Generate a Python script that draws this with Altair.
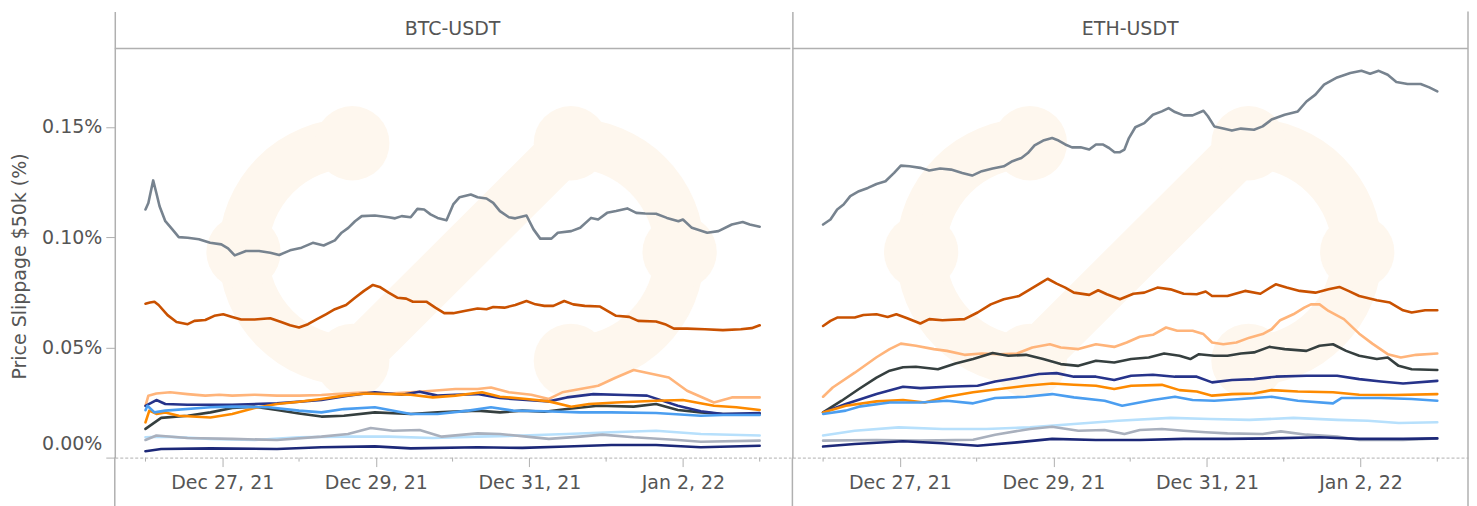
import altair as alt
import pandas as pd
import math

FONT = "DejaVu Sans"
TEXT_COLOR = "#555555"
FRAME = "#b0b0b0"
WATERMARK = "#fef7ee"
FS = 19

PAIRS = ["BTC-USDT", "ETH-USDT"]
SERIES = ["Exchange A", "Exchange B", "Exchange C", "Exchange D", "Exchange E",
          "Exchange F", "Exchange G", "Exchange H", "Exchange I", "Exchange J"]
COLORS = ["#77838f", "#c95100", "#ffb47a", "#353f3f", "#26338a",
          "#fd8a00", "#4b9ef0", "#b7e0fc", "#a9b0bd", "#1c2878"]

START = "2021-12-26T00:00:00Z"
LABEL_DAYS = [(2021, 12, 27), (2021, 12, 29), (2021, 12, 31), (2022, 1, 2)]
MINOR_DAYS = ["2021-12-26T00:00:00Z", "2021-12-28T00:00:00Z", "2021-12-30T00:00:00Z",
              "2022-01-01T00:00:00Z", "2022-01-03T00:00:00Z"]
Y_TICKS = [0.0, 0.05, 0.10, 0.15]
Y_TOP = 0.2023

# (hours since Dec 26 00:00 UTC, slippage %)
BTC_A = [(0, 0.1125), (0.9, 0.1155), (2.4, 0.1257), (3.4, 0.120), (4.4, 0.114), (6.2, 0.1072),
         (8.4, 0.1035), (10.4, 0.100), (13.2, 0.0997), (16.7, 0.099), (20.2, 0.0974), (23.7, 0.0967),
         (25.8, 0.0949), (27.9, 0.0917), (31.4, 0.0937), (35.5, 0.0937), (39, 0.0929), (41.8, 0.0919),
         (45.2, 0.094), (48.8, 0.0952), (52.3, 0.0974), (55.7, 0.0962), (59.2, 0.0985), (61.3, 0.102),
         (63.4, 0.1042), (65.5, 0.1072), (67.6, 0.1095), (71.7, 0.1098), (76, 0.109), (78, 0.1085),
         (80.1, 0.1095), (82.9, 0.109), (85, 0.1128), (87.1, 0.1125), (89.1, 0.1103), (91.3, 0.1087),
         (94.1, 0.1076), (96.2, 0.1148), (98.2, 0.1181), (101.7, 0.1193), (103.8, 0.1181),
         (106.6, 0.1175), (108.7, 0.1155), (110.8, 0.1118), (113.6, 0.109), (115.6, 0.1085),
         (119.1, 0.1098), (121.3, 0.1035), (123.4, 0.0993), (126.9, 0.0993), (128.9, 0.102),
         (133.1, 0.1027), (135.9, 0.1042), (139.3, 0.1087), (141.5, 0.108), (144.3, 0.111),
         (147.1, 0.1118), (150.6, 0.113), (153.4, 0.111), (156.2, 0.1107), (159.6, 0.1106),
         (163, 0.1087), (166.6, 0.1072), (168, 0.108), (170.8, 0.1042), (175.6, 0.102),
         (179.1, 0.1027), (183.3, 0.1057), (186.7, 0.1068), (188.9, 0.1057), (192, 0.1047)]
BTC_B = [(0, 0.0698), (1.4, 0.0703), (2.8, 0.0707), (4.1, 0.0692), (6.9, 0.0646), (9.7, 0.0615),
         (13.2, 0.0605), (15.3, 0.062), (18.7, 0.0624), (21.5, 0.0643), (24.3, 0.065), (27.1, 0.0638),
         (29.9, 0.0626), (34.1, 0.0626), (39, 0.0632), (42.4, 0.0615), (45.2, 0.06), (48, 0.059),
         (50.8, 0.0605), (53.6, 0.0628), (56.4, 0.065), (59.2, 0.0673), (62.7, 0.0692), (65.5, 0.0725),
         (68.3, 0.0756), (71.1, 0.0783), (73.2, 0.0774), (76, 0.0748), (78.7, 0.0725), (81.5, 0.0721),
         (83.6, 0.0707), (87.8, 0.0707), (90.6, 0.068), (93.4, 0.0655), (96.2, 0.0655), (99.7, 0.0665),
         (103.8, 0.0676), (106.6, 0.0673), (108.7, 0.0683), (112.2, 0.068), (115.6, 0.0692),
         (119.1, 0.071), (121.9, 0.0695), (124.7, 0.0688), (127.5, 0.0688), (130.9, 0.071),
         (133.7, 0.0695), (137.3, 0.0688), (142.1, 0.0685), (147.1, 0.0643), (151.2, 0.0638),
         (154, 0.062), (159.6, 0.0617), (162.4, 0.0605), (165.2, 0.0585), (169.3, 0.0585),
         (174.9, 0.0582), (180.5, 0.0578), (186.1, 0.0582), (189.5, 0.0587), (192, 0.060)]
BTC_C = [(0, 0.0235), (0.9, 0.0281), (3.4, 0.0291), (7.7, 0.0296), (13.1, 0.0288), (18.7, 0.0281),
         (23.1, 0.0285), (27.1, 0.0281), (34.1, 0.0285), (41.1, 0.0281), (48, 0.0281), (55, 0.0284),
         (62, 0.0291), (68.9, 0.0296), (76, 0.0291), (82.9, 0.0296), (89.8, 0.0303), (96.9, 0.0311),
         (103.8, 0.0311), (108, 0.0318), (113.6, 0.0296), (120.6, 0.0285), (126.1, 0.0266),
         (130.3, 0.0296), (135.9, 0.0311), (141.5, 0.0326), (147.1, 0.0363), (152.6, 0.0397),
         (163.6, 0.0363), (169.3, 0.0303), (177.7, 0.025), (183.3, 0.0273), (192, 0.0273)]
BTC_D = [(0, 0.013), (4.9, 0.018), (13.2, 0.019), (20.3, 0.0205), (27.1, 0.0225), (34.1, 0.0231),
         (41.1, 0.0216), (48, 0.020), (55, 0.0186), (62, 0.019), (71.7, 0.0205), (82.9, 0.0198),
         (91.3, 0.0205), (103.8, 0.0213), (110.8, 0.0205), (117.8, 0.0213), (124.7, 0.0208),
         (131.7, 0.022), (141.5, 0.0235), (152.6, 0.0231), (159.6, 0.0243), (166.4, 0.0216),
         (173.6, 0.0205), (180.5, 0.0198), (192, 0.0198)]
BTC_E = [(0, 0.0235), (3.4, 0.0261), (6.2, 0.0243), (13.1, 0.024), (27.1, 0.024), (41.1, 0.0246),
         (55, 0.0261), (63.3, 0.0281), (71.7, 0.0296), (80.1, 0.0285), (85.7, 0.0299), (91.3, 0.0281),
         (96.9, 0.0285), (103.8, 0.0288), (110.8, 0.027), (119.1, 0.0261), (126.1, 0.0255),
         (131.7, 0.0273), (140, 0.0288), (149.8, 0.0284), (156.8, 0.0281), (166.4, 0.0235),
         (173.6, 0.021), (180.5, 0.0198), (192, 0.0202)]
BTC_F = [(0, 0.016), (1.2, 0.0213), (3.4, 0.0198), (6.2, 0.0205), (10.4, 0.019), (20.3, 0.0182),
         (27.1, 0.0198), (34.1, 0.0225), (41.1, 0.0243), (48, 0.0253), (55, 0.0266), (62, 0.0281),
         (68.9, 0.0291), (76, 0.0288), (82.9, 0.0285), (89.8, 0.0273), (96.9, 0.0281), (105.2, 0.0296),
         (110.8, 0.0276), (119.1, 0.0266), (126.1, 0.0255), (133.1, 0.0231), (138.7, 0.0243),
         (147.1, 0.025), (159.6, 0.0258), (168, 0.0261), (177.7, 0.0235), (184.7, 0.0228), (192, 0.0216)]
BTC_G = [(0, 0.0215), (0.6, 0.0235), (2.8, 0.0205), (6.2, 0.0213), (20.3, 0.0228), (27.1, 0.0231),
         (38.4, 0.0228), (48, 0.0213), (55, 0.0205), (62, 0.022), (71.7, 0.0228), (82.9, 0.0198),
         (91.3, 0.0198), (101, 0.0213), (108, 0.0228), (115, 0.0213), (124.7, 0.021), (135.9, 0.0205),
         (145.6, 0.0205), (159.6, 0.0202), (173.6, 0.019), (180.5, 0.0193), (192, 0.0193)]
BTC_H = [(0, 0.0092), (6.2, 0.0095), (20.3, 0.0085), (34.1, 0.008), (48, 0.0092), (62, 0.0095),
         (76, 0.0095), (89.8, 0.0089), (103.8, 0.0095), (117.8, 0.010), (131.7, 0.0107),
         (145.6, 0.0115), (159.6, 0.0122), (173.6, 0.0107), (192, 0.010)]
BTC_I = [(0, 0.008), (3.4, 0.010), (13.1, 0.0089), (27.1, 0.0085), (41.1, 0.008), (55, 0.0095),
         (63.3, 0.0107), (70.4, 0.0134), (77.3, 0.0122), (85.7, 0.0125), (92.6, 0.0095),
         (103.8, 0.011), (110.8, 0.0107), (119.1, 0.0095), (126.1, 0.0085), (135.9, 0.0095),
         (142.8, 0.0104), (152.6, 0.0092), (166.4, 0.008), (173.6, 0.0072), (192, 0.0077)]
BTC_J = [(0, 0.0029), (4.9, 0.0039), (20.3, 0.0042), (41.1, 0.0039), (55, 0.0047), (71.7, 0.0051),
         (82.9, 0.0042), (103.8, 0.0047), (117.8, 0.0044), (131.7, 0.005), (145.6, 0.0057),
         (159.6, 0.0057), (173.6, 0.0047), (192, 0.0054)]

ETH_A = [(0, 0.1057), (2.3, 0.108), (4.4, 0.1125), (6.4, 0.1148), (8.5, 0.1186), (11.2, 0.1208),
         (14, 0.1223), (16.7, 0.1241), (19.5, 0.1253), (22.2, 0.1291), (24.3, 0.1324), (27, 0.1321),
         (30.4, 0.1314), (33.2, 0.1302), (36.6, 0.1311), (40, 0.1306), (43.5, 0.1291), (46.6, 0.1279),
         (49.6, 0.1299), (53, 0.1311), (56.5, 0.1321), (59.2, 0.1344), (62, 0.1359), (64, 0.1381),
         (66.1, 0.1416), (68.8, 0.1438), (71.6, 0.1449), (73.6, 0.1438), (75.7, 0.142), (77.8, 0.1407),
         (80.5, 0.1407), (83.2, 0.1397), (85.3, 0.142), (87.4, 0.142), (89.4, 0.1404), (91.1, 0.1385),
         (92.8, 0.1385), (94.2, 0.1397), (95.6, 0.1449), (97.6, 0.1498), (100.4, 0.1517),
         (103.1, 0.1555), (105.9, 0.157), (108, 0.1585), (110, 0.1567), (112.7, 0.1552),
         (115.5, 0.1552), (118.9, 0.1573), (120.3, 0.1548), (122.3, 0.1502), (125.1, 0.1492),
         (127.8, 0.1483), (130.6, 0.1492), (134.7, 0.1487), (137.4, 0.1502), (140.2, 0.1533),
         (144.3, 0.1555), (148.4, 0.157), (151.1, 0.1615), (153.9, 0.1646), (156.6, 0.1691),
         (160.7, 0.1724), (164.8, 0.1744), (168.3, 0.1754), (171, 0.1741), (173.7, 0.1754),
         (176.5, 0.1736), (179.2, 0.1703), (182.7, 0.1694), (186.8, 0.1694), (189.5, 0.1679),
         (192, 0.1661)]
ETH_B = [(0, 0.0597), (2.3, 0.062), (4.4, 0.0635), (9.9, 0.0635), (12.6, 0.0647), (16.7, 0.065),
         (20.2, 0.0638), (22.9, 0.065), (26.3, 0.0632), (30.4, 0.0608), (33.2, 0.0628), (37.3, 0.0623),
         (44.2, 0.0628), (48.3, 0.0658), (52.4, 0.0695), (56.5, 0.0718), (61.3, 0.0733), (64.7, 0.0763),
         (68.2, 0.0793), (70.2, 0.0811), (73, 0.0789), (75.7, 0.0771), (78.4, 0.0748), (83.2, 0.0738),
         (86, 0.0759), (88.7, 0.0741), (92.8, 0.0718), (97, 0.0743), (100.4, 0.0748), (104.5, 0.0771),
         (108.6, 0.0763), (112.7, 0.0743), (116.8, 0.0741), (119.6, 0.0753), (121.6, 0.0733),
         (126.4, 0.0733), (131.9, 0.0756), (136.7, 0.0743), (141.5, 0.0786), (144.9, 0.0771),
         (149, 0.0756), (153.9, 0.0748), (158, 0.0763), (161.4, 0.0774), (164.2, 0.0756),
         (167.6, 0.0733), (173.1, 0.0714), (177.2, 0.0703), (181.3, 0.0668), (184, 0.0658),
         (188.2, 0.0668), (192, 0.0668)]
ETH_C = [(0, 0.0276), (3, 0.0318), (9.9, 0.0385), (16.7, 0.0455), (20.8, 0.0492), (24.3, 0.0517),
         (29, 0.0507), (34.6, 0.0492), (38.7, 0.0484), (44.2, 0.0466), (49.6, 0.0472), (55.1, 0.0469),
         (60.6, 0.0472), (65.4, 0.0499), (70.9, 0.0514), (74.3, 0.0499), (79.8, 0.0492), (85.3, 0.0514),
         (91, 0.0502), (94.9, 0.0522), (99, 0.0548), (103.1, 0.0557), (107.2, 0.059), (110.7, 0.0575),
         (115.5, 0.0575), (118.9, 0.056), (121.6, 0.0522), (125.1, 0.0514), (129.2, 0.0522),
         (133.3, 0.0544), (137.4, 0.056), (140.2, 0.0582), (142.9, 0.0623), (147, 0.065),
         (150.4, 0.068), (152.5, 0.0695), (155.2, 0.0695), (158, 0.0665), (162.8, 0.0628),
         (167.6, 0.0562), (171.7, 0.0517), (176.5, 0.0469), (180.6, 0.0454), (185.4, 0.0466),
         (192, 0.0472)]
ETH_D = [(0, 0.0205), (5.8, 0.0258), (11.2, 0.0311), (16.7, 0.0363), (20.8, 0.0394), (25, 0.041),
         (29, 0.0412), (35.9, 0.0401), (41.4, 0.0427), (46.9, 0.0447), (53, 0.0474), (57.9, 0.0462),
         (63.4, 0.0466), (68.8, 0.0447), (74.3, 0.0424), (79.8, 0.0416), (85.3, 0.0439), (91, 0.0431),
         (96.3, 0.0447), (101.8, 0.0454), (106.6, 0.0472), (111.4, 0.0462), (114.8, 0.0447),
         (117.5, 0.0469), (122.3, 0.0462), (126.4, 0.0462), (130.6, 0.0472), (134.7, 0.0477),
         (139.5, 0.0502), (144.3, 0.0492), (151.1, 0.0484), (155.2, 0.0507), (159.4, 0.0514),
         (163.5, 0.0484), (167.6, 0.0462), (173.1, 0.0447), (176.5, 0.0454), (179.9, 0.0416),
         (184, 0.0401), (192, 0.0397)]
ETH_E = [(0, 0.0205), (7.1, 0.0243), (16.7, 0.0288), (25, 0.0321), (30.4, 0.0315), (38.7, 0.0321),
         (48.3, 0.0326), (53.8, 0.0345), (60.6, 0.0361), (67.5, 0.0379), (73, 0.0383), (78.4, 0.0367),
         (85.3, 0.0367), (91, 0.0352), (96.3, 0.0371), (103.1, 0.0376), (110, 0.0367), (116.8, 0.0367),
         (121.6, 0.0341), (127.8, 0.0352), (134.7, 0.0356), (141.5, 0.0367), (151.1, 0.0371),
         (160.7, 0.0371), (167.6, 0.0356), (174.4, 0.0345), (181.3, 0.0336), (192, 0.0348)]
ETH_F = [(0, 0.0205), (7.1, 0.0235), (16.7, 0.0255), (25, 0.0261), (31.8, 0.025), (38.7, 0.0276),
         (46.9, 0.0296), (55.1, 0.0311), (63.4, 0.0326), (71.6, 0.0336), (78.4, 0.033), (85.3, 0.0326),
         (91, 0.0311), (96.3, 0.0326), (105.9, 0.033), (111.4, 0.0306), (116.8, 0.030), (121.6, 0.0281),
         (127.8, 0.0288), (134.7, 0.0291), (140.2, 0.0306), (148.4, 0.030), (159.4, 0.0296),
         (167.6, 0.0285), (178.7, 0.0284), (192, 0.0288)]
ETH_G = [(0, 0.0198), (7.1, 0.0213), (11.2, 0.0231), (20.8, 0.025), (30.4, 0.025), (38.7, 0.0258),
         (46.9, 0.0246), (53.8, 0.027), (63.4, 0.0276), (71.6, 0.0288), (78.4, 0.0273), (88, 0.0258),
         (93.5, 0.0235), (103.1, 0.0261), (110, 0.0276), (115.5, 0.0261), (122.3, 0.0258),
         (130.6, 0.0266), (140.2, 0.0276), (148.4, 0.0258), (159.4, 0.0246), (162, 0.027),
         (174.4, 0.027), (184, 0.0266), (192, 0.0258)]
ETH_H = [(0, 0.010), (9.9, 0.0122), (23.6, 0.0137), (37.3, 0.013), (51, 0.013), (64.7, 0.0137),
         (78.4, 0.0152), (92.2, 0.0167), (108.6, 0.018), (121, 0.0175), (133.3, 0.0171), (147, 0.018),
         (160.7, 0.0171), (170.3, 0.0167), (180, 0.0157), (192, 0.016)]
ETH_I = [(0, 0.0077), (16.7, 0.008), (30.4, 0.0077), (46.9, 0.0081), (53.8, 0.0104), (64.7, 0.013),
         (71.6, 0.014), (79.8, 0.0122), (88, 0.0125), (94.2, 0.0107), (99, 0.0125), (105.9, 0.013),
         (112.7, 0.0122), (119.6, 0.0115), (126.4, 0.011), (137.4, 0.0107), (143.1, 0.0119),
         (151.1, 0.0104), (160.7, 0.0095), (167.6, 0.008), (181.3, 0.008), (192, 0.0087)]
ETH_J = [(0, 0.005), (9.9, 0.0062), (25, 0.0074), (37.3, 0.0065), (48.3, 0.0054), (60.6, 0.0069),
         (71.6, 0.0085), (85.3, 0.008), (99, 0.008), (112.7, 0.0085), (126.4, 0.0085), (140.2, 0.0087),
         (155.2, 0.0092), (167.6, 0.0085), (181.3, 0.0085), (192, 0.0087)]

DATA = {
    "BTC-USDT": [BTC_A, BTC_B, BTC_C, BTC_D, BTC_E, BTC_F, BTC_G, BTC_H, BTC_I, BTC_J],
    "ETH-USDT": [ETH_A, ETH_B, ETH_C, ETH_D, ETH_E, ETH_F, ETH_G, ETH_H, ETH_I, ETH_J],
}

t0 = pd.Timestamp(START)
rows = []
for pair, series_list in DATA.items():
    for name, pts in zip(SERIES, series_list):
        for h, v in pts:
            t = t0 + pd.Timedelta(hours=h)
            rows.append({"pair": pair, "series": name,
                         "time": t.strftime("%Y-%m-%dT%H:%M:%SZ"), "value": v})
df = pd.DataFrame(rows)
minor_df = pd.DataFrame({"time": MINOR_DAYS})
one = pd.DataFrame({"k": [0]})

W, H = 677, 447

x_scale = alt.Scale(type="utc", nice=False, domain=[
    alt.DateTime(year=2021, month=12, date=25, hours=14, minutes=24, utc=True),
    alt.DateTime(year=2022, month=1, date=3, hours=9, minutes=36, utc=True)])
y_scale = alt.Scale(domain=[0, Y_TOP], nice=False, zero=False)

x_axis = alt.Axis(
    values=[alt.DateTime(year=y, month=m, date=d, utc=True) for (y, m, d) in LABEL_DAYS],
    labelExpr="utcFormat(datum.value, '%b %-d, %y')",
    title=None, grid=False, labelFlush=False,
    domainColor=FRAME, domainDash=[3, 2], domainWidth=1,
    tickColor=FRAME, tickSize=9, tickWidth=1,
    labelFont=FONT, labelFontSize=FS, labelColor=TEXT_COLOR, labelPadding=7)


def y_axis(show):
    if show:
        return alt.Axis(values=Y_TICKS, labelExpr="format(datum.value, '.2f') + '%'",
                        grid=False, domainColor=FRAME, domainWidth=1.5,
                        tickColor=FRAME, tickSize=9, tickWidth=1,
                        labelFont=FONT, labelFontSize=FS, labelColor=TEXT_COLOR,
                        labelPadding=4, labelFlush=True, labelFlushOffset=-4,
                        title="Price Slippage $50k (%)", titleFont=FONT, titleFontSize=FS,
                        titleFontWeight="normal", titleColor=TEXT_COLOR, titlePadding=12,
                        titleY=255)
    return alt.Axis(values=Y_TICKS, labels=False, ticks=False, grid=False, title=None,
                    domainColor=FRAME, domainWidth=1.5)


def watermark():
    # faint logo behind the lines (decoration only)
    r_mid, band, node = 109, 50, 42
    cy = 241
    left_c, right_c = 238, 457
    parts = []
    parts.append(alt.Chart(one).mark_arc(
        color=WATERMARK, radius=r_mid + band / 2, radius2=r_mid - band / 2,
        theta=math.pi, theta2=2 * math.pi).encode(x=alt.value(left_c), y=alt.value(cy)))
    parts.append(alt.Chart(one).mark_arc(
        color=WATERMARK, radius=r_mid + band / 2, radius2=r_mid - band / 2,
        theta=0, theta2=math.pi).encode(x=alt.value(right_c), y=alt.value(cy)))
    parts.append(alt.Chart(one).mark_rule(
        color=WATERMARK, strokeWidth=band, strokeCap="round").encode(
        x=alt.value(left_c), y=alt.value(cy + r_mid),
        x2=alt.value(right_c), y2=alt.value(cy - r_mid)))
    for (nx, ny) in [(left_c, cy - r_mid), (left_c - r_mid, cy), (left_c, cy + r_mid),
                     (right_c, cy - r_mid), (right_c + r_mid, cy), (right_c, cy + r_mid)]:
        parts.append(alt.Chart(one).mark_circle(
            color=WATERMARK, opacity=1, size=math.pi * node * node).encode(
            x=alt.value(nx), y=alt.value(ny)))
    return parts


def panel(pair, first):
    base = alt.Chart(df[df["pair"] == pair])
    lines = base.mark_line(strokeWidth=2.6, strokeJoin="round", strokeCap="round").encode(
        x=alt.X("time:T", scale=x_scale, axis=x_axis),
        y=alt.Y("value:Q", scale=y_scale, axis=y_axis(first)),
        color=alt.Color("series:N", scale=alt.Scale(domain=SERIES, range=COLORS), legend=None),
    )
    minor = alt.Chart(minor_df).mark_rule(color=FRAME, strokeWidth=1).encode(
        x=alt.X("time:T", scale=x_scale), y=alt.value(H), y2=alt.value(H + 4))
    header_line = alt.Chart(one).mark_rule(color=FRAME, strokeWidth=1.5).encode(
        x=alt.value(0), x2=alt.value(W), y=alt.value(37))
    header_text = alt.Chart(one).mark_text(
        font=FONT, fontSize=FS, color=TEXT_COLOR, baseline="middle", align="center").encode(
        x=alt.value(W / 2), y=alt.value(18), text=alt.value(pair))
    ext_left = alt.Chart(one).mark_rule(color=FRAME, strokeWidth=1.5).encode(
        x=alt.value(0), y=alt.value(H), y2=alt.value(H + 55))
    layers = watermark() + [header_line, header_text, ext_left, minor, lines]
    if not first:
        ext_right = alt.Chart(one).mark_rule(color=FRAME, strokeWidth=1.5).encode(
            x=alt.value(W), y=alt.value(0), y2=alt.value(H + 55))
        layers.append(ext_right)
    return alt.layer(*layers).properties(width=W, height=H)


chart = alt.hconcat(panel(PAIRS[0], True), panel(PAIRS[1], False), spacing=0).configure_view(
    stroke=None).properties(padding={"left": 2, "top": 2, "right": 0, "bottom": 0})

chart.save("out.html", embed_options={"renderer": "svg", "actions": False})
